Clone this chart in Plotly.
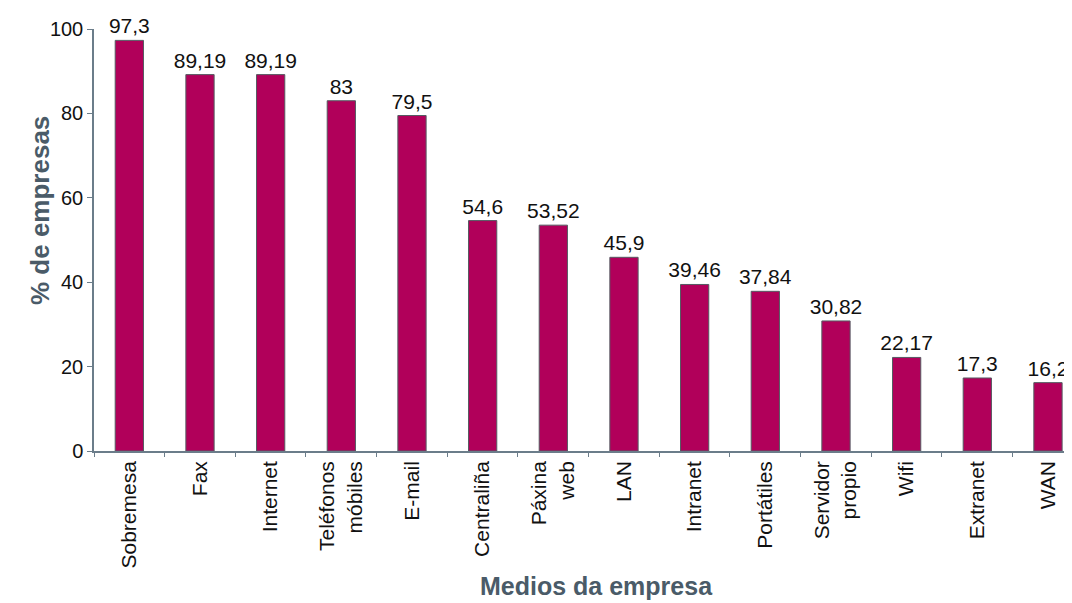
import plotly.graph_objects as go

categories = [
    "Sobremesa", "Fax", "Internet", "Teléfonos<br>móbiles", "E-mail",
    "Centraliña", "Páxina<br>web", "LAN", "Intranet", "Portátiles",
    "Servidor<br>propio", "Wifi", "Extranet", "WAN",
]
values = [97.3, 89.19, 89.19, 83, 79.5, 54.6, 53.52, 45.9, 39.46, 37.84, 30.82, 22.17, 17.3, 16.2]
y_ticks = [0, 20, 40, 60, 80, 100]

BAR_COLOR = "#B1005A"
AXIS_COLOR = "#6B7D8A"
TITLE_COLOR = "#4A5B68"
FONT = "Liberation Sans, Arial, sans-serif"

labels = [str(v).replace(".", ",") for v in values]

fig = go.Figure()
fig.add_trace(go.Bar(
    x=categories,
    y=values,
    width=0.4,
    marker=dict(color=BAR_COLOR, line=dict(color="#555B62", width=1)),
    text=labels,
    textposition="outside",
    constraintext="none",
    textfont=dict(size=21, color="#111111", family=FONT),
    cliponaxis=False,
))

# the page body adds an 8px margin, so the figure is 8px smaller than the window
fig.update_layout(
    width=1064,
    height=595,
    margin=dict(l=86, r=0, t=21, b=152),
    plot_bgcolor="white",
    paper_bgcolor="white",
    font=dict(family=FONT, size=19, color="#111111"),
    showlegend=False,
    xaxis=dict(
        range=[-0.5, 13.34],
        automargin=False,
        tickangle=-90,
        showline=True,
        linecolor=AXIS_COLOR,
        linewidth=1.5,
        ticks="outside",
        tickson="boundaries",
        ticklen=4,
        tickcolor=AXIS_COLOR,
        showgrid=False,
        tickfont=dict(size=21, color="#111111"),
    ),
    yaxis=dict(
        range=[0, 100],
        automargin=False,
        tickvals=y_ticks,
        showline=True,
        linecolor=AXIS_COLOR,
        linewidth=1.5,
        ticks="outside",
        ticklen=5,
        tickcolor=AXIS_COLOR,
        showgrid=False,
        zeroline=False,
        tickfont=dict(size=20, color="#111111"),
    ),
)

# axis titles placed as annotations to match the reference positions
fig.add_annotation(
    text="<b>Medios da empresa</b>",
    xref="paper", yref="paper",
    x=(596 - 94) / (1072 - 94), y=0,
    yanchor="top",
    yshift=-119,
    showarrow=False,
    font=dict(size=25, color=TITLE_COLOR),
)
fig.add_annotation(
    text="<b>% de empresas</b>",
    xref="paper", yref="paper",
    x=(23 - 94) / (1072 - 94), y=(451 - 211) / (451 - 29),
    textangle=-90,
    showarrow=False,
    font=dict(size=26, color=TITLE_COLOR),
)

fig.write_html("out.html")
